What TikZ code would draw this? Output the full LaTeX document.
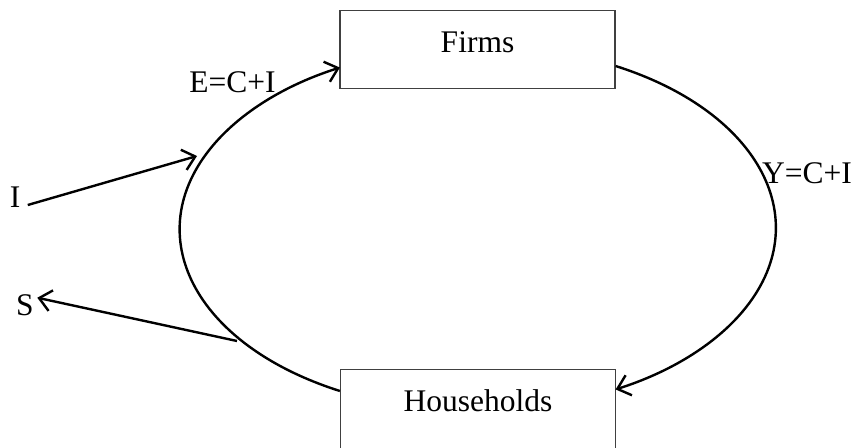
\documentclass[tikz,border=0pt]{standalone}
\usepackage{fontspec}
\setmainfont{Liberation Serif}
\usetikzlibrary{arrows.meta}
\begin{document}
\begin{tikzpicture}
[x=1pt,y=-1pt,
  boxdecorate/.style={draw=black!75,line width=1.2pt,minimum width=275pt,
    inner ysep=20pt,text height=21.5pt},%
  flowdecorate/.style={line width=2.4pt,-{Straight Barb[length=12pt,width=21pt]}},%
  lbldecorate/.style={inner sep=0.3333em},%
  every node/.style={font=\fontsize{31.5}{38}\selectfont}]
\useasboundingbox (0,0) rectangle (856,447);
%% boxes
\node (firms) [boxdecorate,text depth=16pt,anchor=north] at (477.5,10) {Firms};
\node (hh) [boxdecorate,text depth=42pt,anchor=north] at (478,369) {Households};
%% labels
\foreach \nodename/\x/\y/\txt in {
  lblE/232.5/92/E=C+I, lblY/807/183/Y=C+I,
  lblI/15/207/I, lblS/25/315/S}
{
  \node (\nodename) [lbldecorate,anchor=base] at (\x,\y) {\txt};
}
\coordinate (inI) at (197,156);
\coordinate (outS) at (237,341);
%% circular flow
\draw [flowdecorate] ([yshift=-22pt]hh.north west)
  arc[start angle=242.7,end angle=117.3,x radius=296pt,y radius=182pt];
\draw [flowdecorate] ([yshift=-56pt]firms.north east)
  arc[start angle=62.7,end angle=-62.7,x radius=296pt,y radius=182pt];
%% injection and leakage
\draw [flowdecorate] ([xshift=4pt,yshift=2pt]lblI.base east) -- (inI);
\draw [flowdecorate] (outS) -- ([yshift=7pt]lblS.east);
\end{tikzpicture}
\end{document}
